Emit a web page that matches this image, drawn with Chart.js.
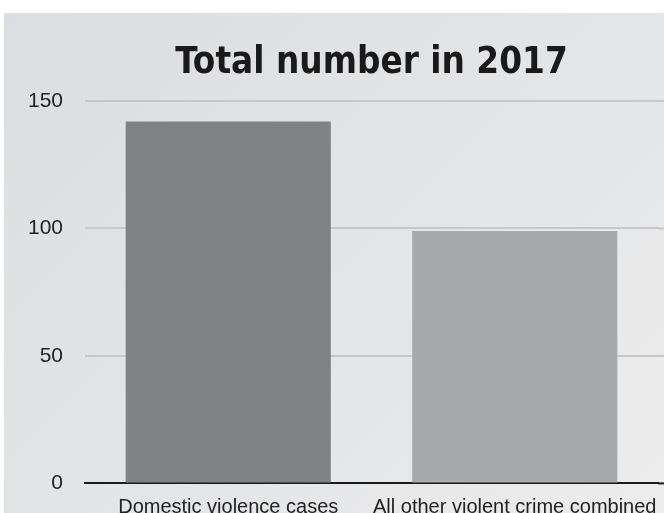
<!DOCTYPE html>
<html>
<head>
<meta charset="utf-8">
<script src="https://cdn.jsdelivr.net/npm/chart.js@4/dist/chart.umd.min.js"></script>
<style>
  html, body { margin: 0; padding: 0; background: #fff; overflow: hidden; }
  #wrap { position: absolute; left: 4px; top: 13px; width: 660px; height: 500px; overflow: hidden;
    background: linear-gradient(135deg, #dcdde0 0%, #e3e4e6 50%, #ececec 100%); }
  #chart { display: block; }
</style>
</head>
<body>
<div id="wrap"><canvas id="chart" width="660" height="505"></canvas></div>
<script>
const categories = ["Domestic violence cases", "All other violent crime combined"]
const totals = [142, 99]
const barColors = ["#808184", "#a8a9ac"]
const yTicks = [0, 50, 100, 150]

// gridlines in the original run a few px past the plot, to the edge
const extendGrid = {
  id: 'extendGrid',
  beforeDatasetsDraw(chart) {
    const y = chart.scales.y
    const c = chart.ctx
    c.save()
    yTicks.forEach(v => {
      const py = y.getPixelForValue(v)
      c.beginPath()
      c.lineWidth = 2
      c.strokeStyle = v === 0 ? '#1a1a1a' : '#c6c7c9'
      c.moveTo(chart.chartArea.right, py)
      c.lineTo(chart.width, py)
      c.stroke()
    })
    c.restore()
  }
}

const ctx = document.getElementById("chart")

new Chart(ctx, {
  type: 'bar',
  data: {
    labels: categories,
    datasets: [{
      data: totals,
      backgroundColor: barColors,
      borderWidth: 0,
      categoryPercentage: 0.716,
      barPercentage: 1
    }]
  },
  options: {
    responsive: false,
    animation: false,
    layout: { padding: { left: 0, right: 6, top: 0, bottom: 0 } },
    plugins: {
      legend: { display: false },
      tooltip: { enabled: false },
      title: {
        display: true,
        text: 'Total number in 2017',
        fullSize: false,
        color: '#1a1a1a',
        font: { family: "'DejaVu Sans Condensed', 'DejaVu Sans', Roboto", size: 36.5, weight: 'bold' },
        lineHeight: 1.2,
        padding: { top: 29, bottom: 15.2 }
      }
    },
    scales: {
      x: {
        afterFit: s => { s.height = 30; s.paddingLeft = 0; s.paddingRight = 0 },
        grid: { display: false, drawTicks: false },
        border: { display: true, color: '#1a1a1a', width: 2 },
        ticks: {
          color: '#222',
          font: { family: "'Liberation Sans', Arial", size: 20 },
          padding: 12,
          maxRotation: 0,
          minRotation: 0,
          autoSkip: false
        }
      },
      y: {
        min: 0,
        max: 150,
        afterFit: s => { s.width = 81 },
        afterBuildTicks: s => { s.ticks = yTicks.map(v => ({ value: v })) },
        border: { display: false },
        grid: {
          drawTicks: false,
          lineWidth: 2,
          color: c => c.tick && c.tick.value === 0 ? 'rgba(0,0,0,0)' : '#c6c7c9'
        },
        ticks: {
          color: '#222',
          font: { family: "'Liberation Sans', Arial", size: 21 },
          padding: 22
        }
      }
    }
  },
  plugins: [extendGrid]
})
</script>
</body>
</html>
